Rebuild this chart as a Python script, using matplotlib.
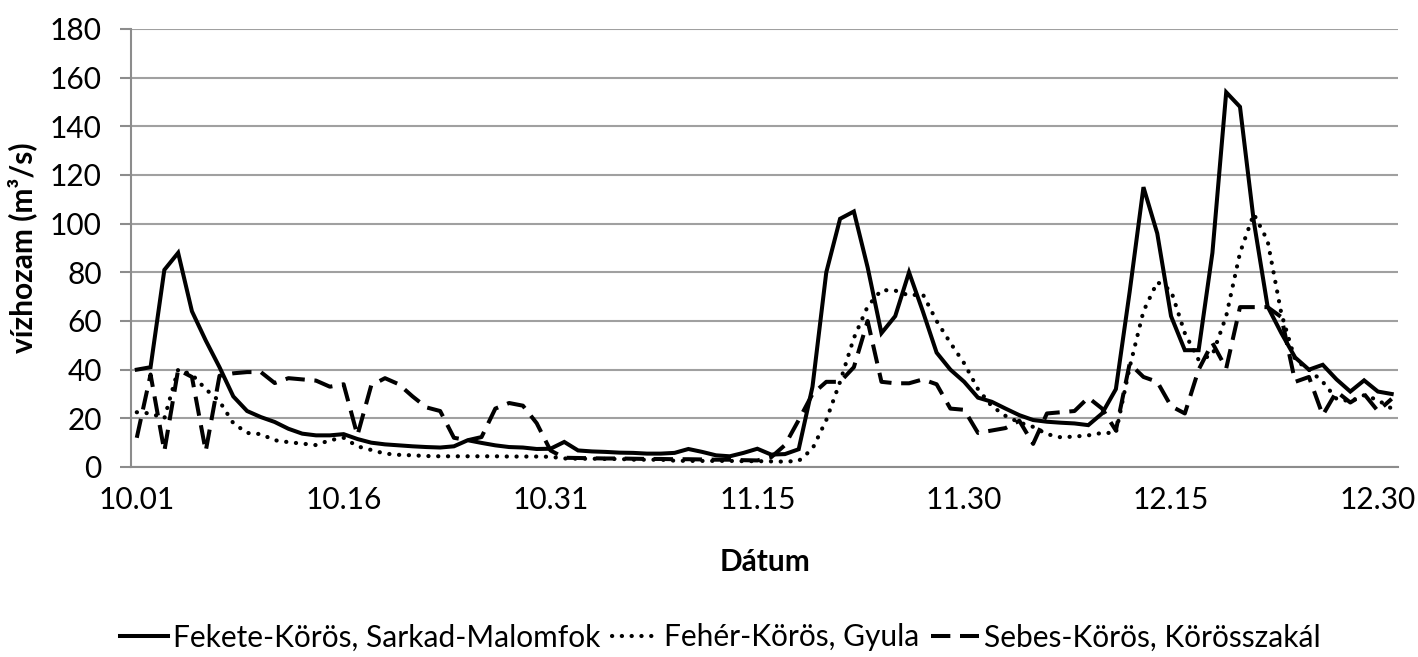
import matplotlib
matplotlib.use('Agg')
import matplotlib.pyplot as plt
import pandas as pd
import numpy as np

# Daily discharge, 10.01 - 12.31 (92 days)
dates = pd.date_range('2015-10-01', '2015-12-31', freq='D')

fekete = [40, 41, 81, 88, 64, 52, 41, 29, 23, 20.5,
          18.5, 15.7, 13.7, 13, 13, 13.5, 11.5, 10, 9.3, 8.9,
          8.5, 8.2, 8, 8.5, 11, 9.9, 8.9, 8.2, 8, 7.4,
          7.5, 10.3, 6.8, 6.4, 6.2, 5.9, 5.8, 5.5, 5.5, 5.8,
          7.4, 6.2, 4.8, 4.4, 5.8, 7.5, 5.1, 5.3, 7.3, 33,
          80, 102, 105, 82, 55, 62, 80, 64, 47, 40,
          35, 28.5, 26.8, 24, 21.3, 19.3, 18.6, 18.2, 17.9, 17.2,
          22, 32, 72, 115, 96, 62, 48, 48, 88, 154,
          148, 101, 66, 55, 45, 40, 42, 36, 31, 35.6,
          31, 30]

feher = [22.5, 22, 20, 40, 38, 32, 27, 18, 14, 13.5,
         11, 10.2, 9.6, 9, 11, 12, 8.5, 7, 5.5, 5,
         4.8, 4.5, 4.4, 4.4, 4.4, 4.4, 4.4, 4.3, 4.3, 4.3,
         4.2, 3.5, 3.4, 3.4, 3.3, 3.3, 3, 3, 3, 2.6,
         2.5, 2.5, 2.5, 2.5, 2.4, 2.4, 2.3, 2.2, 2.5, 7.5,
         19.3, 35, 53, 66, 72.7, 72.5, 70.5, 71, 60, 51,
         42.6, 32, 25, 21, 18.3, 16.5, 13.5, 12.2, 12.5, 13,
         14, 14, 41, 64, 76, 72.5, 55, 44, 46, 62,
         88, 104, 93, 63, 44, 40, 35, 28, 27, 29.5,
         27.5, 24]

sebes = [12, 38, 6.5, 40, 37, 6.5, 37.5, 38.5, 39, 39,
         34.5, 36.5, 36, 35.5, 33, 34, 13, 33.5, 36.5, 34,
         29, 24.5, 23, 12, 11, 12.3, 24, 26.3, 25.2, 18,
         6.8, 3.8, 3.7, 3.6, 3.5, 3.5, 3.4, 3.3, 3.3, 3.2,
         3.2, 3.1, 3, 3, 2.8, 2.7, 4, 9, 19.3, 30,
         35, 35, 41, 60, 35, 34.4, 34.4, 36, 34, 24,
         23.5, 14, 15, 16, 19, 9.5, 22, 22.5, 23, 28.5,
         24, 15, 42.5, 37, 35, 25, 22, 40, 51, 40.5,
         65.7, 65.7, 65.7, 61.6, 35, 37, 21.3, 31, 26.5, 30,
         23, 28]

series_names = ['Fekete-Körös, Sarkad-Malomfok', 'Fehér-Körös, Gyula',
                'Sebes-Körös, Körösszakál']

plt.rcParams['font.family'] = ['Lato', 'DejaVu Sans']
fs = 21.5

fig = plt.figure(figsize=(14.18, 6.57), dpi=100)
ax = fig.add_axes([0.0924, 0.2892, 0.8935, 0.6667])

ax.plot(dates, fekete, color='black', lw=2.9, solid_joinstyle='miter', label=series_names[0])
ax.plot(dates, feher, color='black', lw=3.0, linestyle=(0, (0.05, 2.3)),
        dash_capstyle='round', label=series_names[1])
ax.plot(dates, sebes, color='black', lw=2.9, linestyle=(0, (4.8, 2.4)),
        dash_capstyle='butt', label=series_names[2])

ax.set_ylim(0, 180)
ax.set_yticks(np.arange(0, 181, 20))
ax.set_xlim(dates[0] - pd.Timedelta(hours=10), dates[-1] + pd.Timedelta(hours=11))
ax.set_xticks(dates[::15])
ax.set_xticklabels(dates[::15].strftime('%m.%d'))

ax.grid(axis='y', color='#a0a0a0', lw=1.5)
ax.set_axisbelow(True)
for s in ['top', 'right']:
    ax.spines[s].set_visible(False)
for s in ['left', 'bottom']:
    ax.spines[s].set_color('#8c8c8c')
    ax.spines[s].set_linewidth(1.5)
ax.tick_params(axis='y', length=8, width=1.5, color='#8c8c8c', labelsize=fs, pad=13)
ax.tick_params(axis='x', length=0, labelsize=fs, pad=14)

ax.set_xlabel('Dátum', fontsize=fs, fontweight='bold', labelpad=24)
ax.set_ylabel('vízhozam (m³/s)', fontsize=fs, fontweight='bold', labelpad=9)

fig.legend(loc='center', bbox_to_anchor=(0.508, 0.03), ncol=3, frameon=False,
           fontsize=fs, handlelength=1.6, handletextpad=0.15, columnspacing=0.4)

fig.savefig('out.png', dpi=100)
